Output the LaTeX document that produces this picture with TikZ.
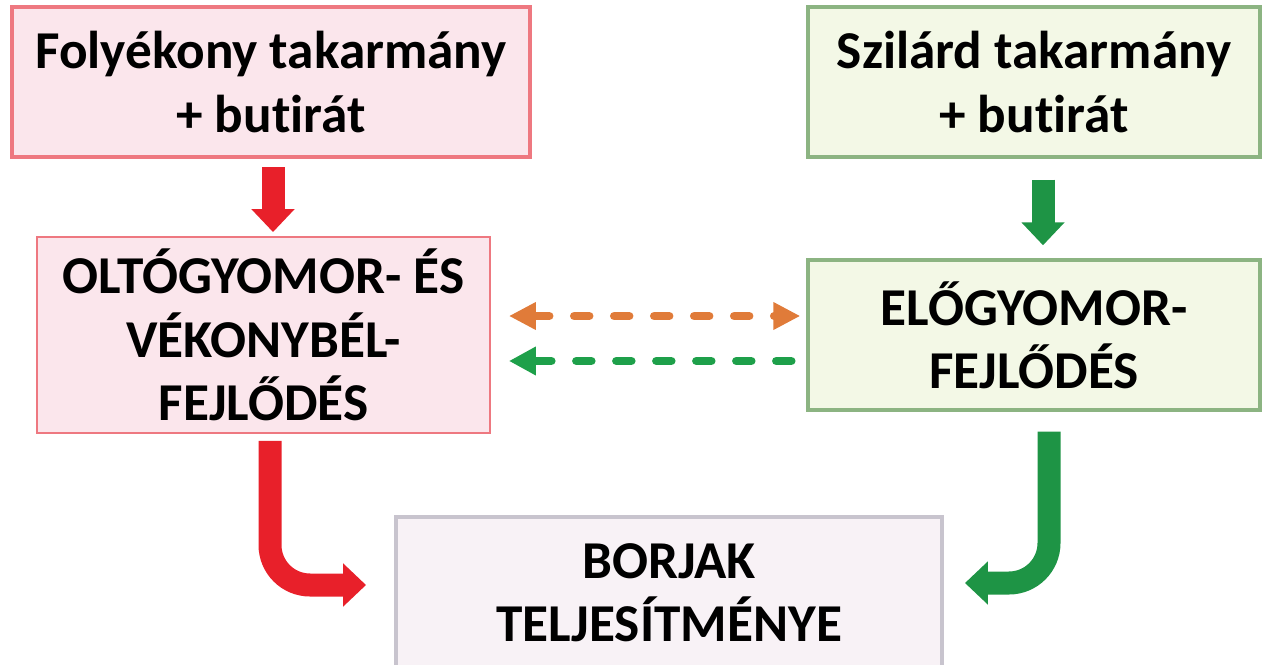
\documentclass[tikz,border=0pt]{standalone}
\usepackage{fontspec}
\setmainfont[Ligatures=NoCommon]{Carlito}
\usetikzlibrary{arrows.meta}

\definecolor{pinkfill}{HTML}{FBE6EC}
\definecolor{pinkline}{HTML}{EE7880}
\definecolor{greenfill}{HTML}{F3F8E6}
\definecolor{greenline}{HTML}{8CB482}
\definecolor{greyfill}{HTML}{F8F2F6}
\definecolor{greyline}{HTML}{C8C4CE}
\definecolor{arrowred}{HTML}{E8202A}
\definecolor{arrowgreen}{HTML}{1E9445}
\definecolor{dashorange}{HTML}{E07B39}
\definecolor{dashgreen}{HTML}{1EA04A}

\begin{document}
\begin{tikzpicture}[x=0.02cm,y=-0.02cm,
  box/.style={draw, align=center, inner sep=0pt, font=\bfseries\fontsize{30.3}{36}\selectfont},
  pinkbox/.style={box, fill=pinkfill, draw=pinkline},
  greenbox/.style={box, fill=greenfill, draw=greenline},
  greybox/.style={box, fill=greyfill, draw=greyline},
  fatarrow/.style={line width=0.46cm, -{Triangle[width=0.84cm,length=0.46cm]}},
  dasharrow/.style={line width=0.17cm, line cap=round, dash pattern=on 0.3cm off 0.5cm},
]
\useasboundingbox (0,0) rectangle (1263,665);

%feed boxes on top

\node[pinkbox, line width=2.3pt, minimum width=10.36cm, minimum height=3cm] (fl) at (271,82) {Folyékony takarmány\\+ butirát};
\node[greenbox, line width=1.8pt, minimum width=9.04cm, minimum height=3cm] (sz) at (1034,82) {Szilárd takarmány\\+ butirát};

%development boxes

\node[pinkbox, line width=1.1pt, minimum width=9.06cm, minimum height=3.92cm] (og) at (263.5,335) {OLTÓGYOMOR- ÉS\\VÉKONYBÉL-\\FEJLŐDÉS};
\node[greenbox, line width=2pt, minimum width=9.04cm, minimum height=3cm] (el) at (1034,335) {ELŐGYOMOR-\\FEJLŐDÉS};

%result box

\node[greybox, line width=2.3pt, minimum width=10.92cm, minimum height=3.04cm] (bj) at (669,593) {BORJAK\\TELJESÍTMÉNYE};

%straight arrows

\draw[fatarrow, arrowred, shorten <=0.16cm, shorten >=0.08cm] ([xshift=0.04cm]fl.south) -- ([xshift=0.04cm]fl.south |- og.north);
\draw[fatarrow, arrowgreen, shorten <=0.42cm, shorten >=0.26cm] ([xshift=0.18cm]sz.south) -- ([xshift=0.18cm]sz.south |- el.north);

%dashed arrows between the middle boxes

\draw[dasharrow, dashorange, {Triangle[width=0.52cm,length=0.54cm]}-{Triangle[width=0.52cm,length=0.54cm]}, shorten <=0.36cm, shorten >=0.12cm] ([yshift=0.38cm]og.east) -- ([yshift=0.38cm]og.east -| el.west);
\draw[dasharrow, dashgreen, -{Triangle[width=0.54cm,length=0.54cm]}, shorten <=0.3cm, shorten >=0.36cm] ([yshift=-0.52cm]el.west) -- ([yshift=-0.52cm]el.west -| og.east);

%bent arrows to the result

\draw[fatarrow, arrowred, rounded corners=0.8cm, shorten <=0.14cm, shorten >=0.56cm] ([xshift=0.13cm]og.south) |- ([yshift=0.16cm]bj.west);
\draw[fatarrow, arrowgreen, rounded corners=0.8cm, shorten <=0.4cm, shorten >=0.42cm] ([xshift=0.3cm]el.south) |- ([yshift=0.2cm]bj.east);
\end{tikzpicture}
\end{document}
